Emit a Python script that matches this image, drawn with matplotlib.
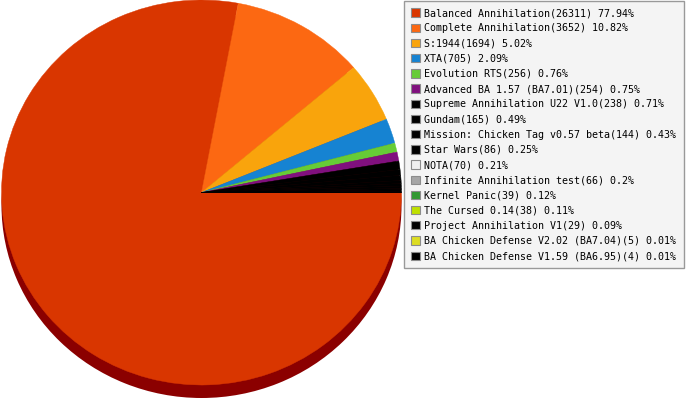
import matplotlib
matplotlib.use('Agg')
import matplotlib.pyplot as plt
from matplotlib.patches import Patch

mods = ['Balanced Annihilation', 'Complete Annihilation', 'S:1944', 'XTA',
        'Evolution RTS', 'Advanced BA 1.57 (BA7.01)', 'Supreme Annihilation U22 V1.0',
        'Gundam', 'Mission: Chicken Tag v0.57 beta', 'Star Wars', 'NOTA',
        'Infinite Annihilation test', 'Kernel Panic', 'The Cursed 0.14',
        'Project Annihilation V1', 'BA Chicken Defense V2.02 (BA7.04)',
        'BA Chicken Defense V1.59 (BA6.95)']
counts = [26311, 3652, 1694, 705, 256, 254, 238, 165, 144, 86, 70, 66, 39, 38, 29, 5, 4]
colors = ['#d93600', '#fc6812', '#f9a40c', '#1683d2', '#66cc36', '#80107e', '#000000',
          '#000000', '#000000', '#000000', '#f0f0f0', '#a6a6a6', '#339933', '#bfe000',
          '#000000', '#dddd22', '#000000']
# in the pie itself the tiny slices all come out black
pie_colors = colors[:6] + ['#000000'] * (len(colors) - 6)
side_color = '#8b0000'

total = sum(counts)
pcts = [round(100 * c / total, 2) for c in counts]
labels = [f'{m}({c}) {p}%' for m, c, p in zip(mods, counts, pcts)]

W, H = 689, 400
fig = plt.figure(figsize=(W / 100, H / 100), dpi=100)

# pie axes, 400px wide; the top face spans y 0..385 px, side is 13px deep
ry = 192.5
depth = 13 / ry
ax = fig.add_axes([1.5 / W, 0, 400 / W, 1])
ax.pie([1], colors=[side_color], radius=1, center=(0, -depth),
       wedgeprops=dict(linewidth=0))
wedges, _ = ax.pie(counts, colors=pie_colors, startangle=0, counterclock=False,
                   radius=1, center=(0, 0), wedgeprops=dict(linewidth=0.3))
for w in wedges:
    w.set_edgecolor(w.get_facecolor())
ax.set_aspect('auto')
ax.set_xlim(-1, 1)
ax.set_ylim(-(H - ry) / ry, 1)
ax.axis('off')

handles = [Patch(facecolor=c, edgecolor='#8c8c8c', linewidth=0.8) for c in colors]
leg = fig.legend(handles, labels, loc='upper left',
                 bbox_to_anchor=(404 / W, 1 - 1 / H), bbox_transform=fig.transFigure,
                 prop={'family': 'DejaVu Sans Mono', 'size': 7.2},
                 frameon=True, fancybox=False, edgecolor='#999999',
                 facecolor='#f4f4f4', framealpha=1, borderaxespad=0,
                 handlelength=0.9, handleheight=0.9, handletextpad=0.45,
                 labelspacing=0.52, borderpad=0.7)
leg.get_frame().set_linewidth(1)

fig.savefig('out.png', dpi=100)
